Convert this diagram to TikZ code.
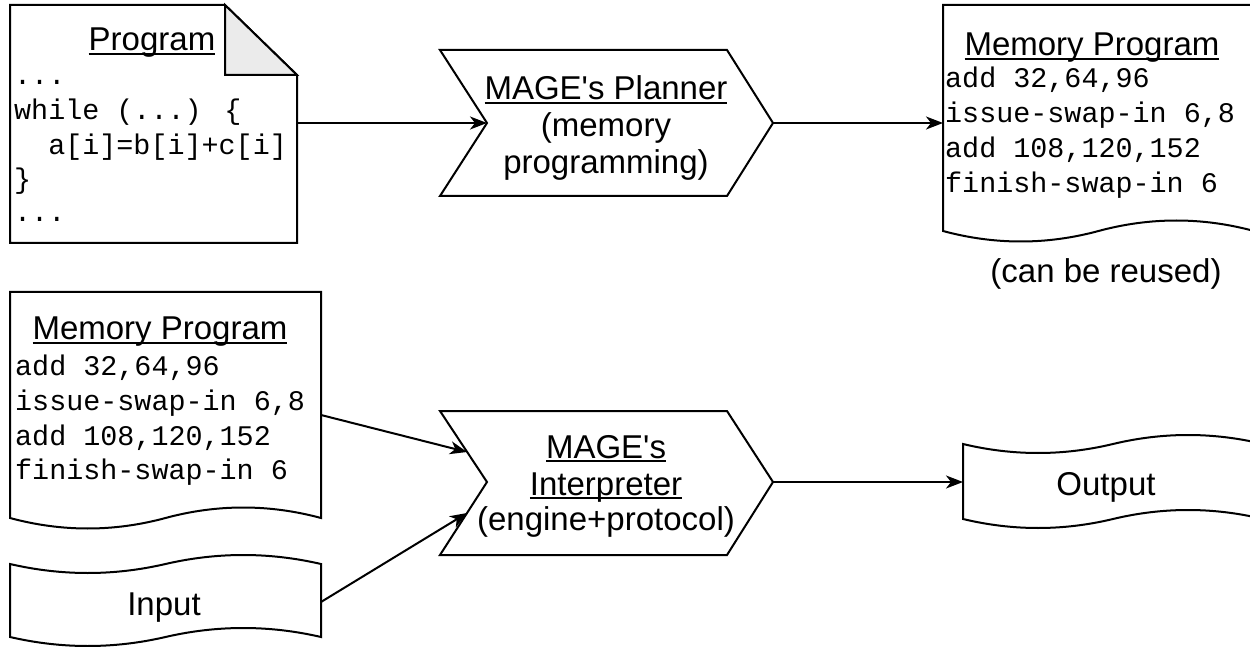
\documentclass[tikz,border=0pt]{standalone}
\usepackage{fontspec}
\setmainfont{Liberation Sans}[Ligatures=TeXOff]
\newfontfamily\codefont{Liberation Mono}[WordSpace={1,0,0}]
\usetikzlibrary{arrows.meta}
\definecolor{foldgray}{RGB}{235,235,235}
\newcommand\myul[1]{\leavevmode\setbox0=\hbox{#1}\rlap{\rule[-4bp]{\wd0}{2bp}}\box0}
\tikzset{
  shapeline/.style={draw=black, line width=2bp, fill=white},
  conn/.style={line width=2bp, -{Stealth[length=17bp,width=13bp,inset=5bp]}},
  sanstxt/.style={anchor=base, inner sep=0pt, font=\fontsize{33bp}{38bp}\selectfont},
  codetxt/.style={anchor=base west, inner sep=0pt, font=\codefont\fontsize{28.4bp}{35bp}\selectfont},
}
\begin{document}
\begin{tikzpicture}[x=1bp,y=-1bp]
\useasboundingbox (0,0) rectangle (1250,647);
\fill[white] (0,0) rectangle (1250,647);

% ---------- Program note ----------
\draw[shapeline] (10,5) -- (225,5) -- (297,75) -- (297,243) -- (10,243) -- cycle;
\draw[shapeline, fill=foldgray] (225,5) -- (225,75) -- (297,75) -- cycle;
\node[sanstxt] (progT) at (152,51) {\myul{Program}};
\node[codetxt] (progL1) at (14,85) {...};
\node[codetxt] (progL2) at (14,120) {while (...) \{};
\node[codetxt] (progL3) at (14,155) {\phantom{aa}a[i]=b[i]+c[i]};
\node[codetxt] (progL4) at (14,189) {\}};
\node[codetxt] (progL5) at (14,222) {...};
\coordinate (progE) at (297,123);

% ---------- Planner step ----------
\draw[shapeline] (440,50) -- (727,50) -- (773,123) -- (727,196) -- (440,196) -- (487,123) -- cycle;
\node[sanstxt] (planT1) at (606,100) {\myul{MAGE's Planner}};
\node[sanstxt] (planT2) at (606,137) {(memory};
\node[sanstxt] (planT3) at (606,174) {programming)};
\coordinate (planW) at (487,123);
\coordinate (planE) at (773,123);

% ---------- Memory Program (top right) ----------
\draw[shapeline] (943,5) -- (1254,5) -- (1254,231)
  .. controls (1202.2,217) and (1150.3,217) .. (1098.5,231)
  .. controls (1046.7,245) and (994.8,245) .. (943,231) -- cycle;
\node[sanstxt] (memAT) at (1092,56) {\myul{Memory Program}};
\node[codetxt] (memAL1) at (945,88) {add 32,64,96};
\node[codetxt] (memAL2) at (945,123) {issue-swap-in 6,8};
\node[codetxt] (memAL3) at (945,158) {add 108,120,152};
\node[codetxt] (memAL4) at (945,193) {finish-swap-in 6};
\coordinate (memAW) at (943,123);
\node[sanstxt] (reuse) at (1106,283) {(can be reused)};

% ---------- Memory Program (bottom left) ----------
\draw[shapeline] (10,292) -- (321,292) -- (321,518)
  .. controls (269.2,504) and (217.3,504) .. (165.5,518)
  .. controls (113.7,532) and (61.8,532) .. (10,518) -- cycle;
\node[sanstxt] (memBT) at (160,340) {\myul{Memory Program}};
\node[codetxt] (memBL1) at (15,375) {add 32,64,96};
\node[codetxt] (memBL2) at (15,410) {issue-swap-in 6,8};
\node[codetxt] (memBL3) at (15,445) {add 108,120,152};
\node[codetxt] (memBL4) at (15,479) {finish-swap-in 6};
\coordinate (memBE) at (321,415);

% ---------- Input tape ----------
\draw[shapeline] (10,564)
  .. controls (61.8,576) and (113.7,576) .. (165.5,564)
  .. controls (217.3,552) and (269.2,552) .. (321,564) -- (321,637)
  .. controls (269.2,625) and (217.3,625) .. (165.5,637)
  .. controls (113.7,649) and (61.8,649) .. (10,637) -- cycle;
\node[sanstxt] (inT) at (164,615) {Input};
\coordinate (inE) at (321,602);

% ---------- Interpreter step ----------
\draw[shapeline] (440,411) -- (727,411) -- (773,482) -- (727,555) -- (440,555) -- (487,482) -- cycle;
\node[sanstxt] (intT1) at (606,458) {\myul{MAGE's}};
\node[sanstxt] (intT2) at (606,495) {\myul{Interpreter}};
\node[sanstxt] (intT3) at (606,530) {(engine+protocol)};
\coordinate (intWa) at (467,452);
\coordinate (intWb) at (467,513);
\coordinate (intE) at (773,482);

% ---------- Output tape ----------
\draw[shapeline] (963,444)
  .. controls (1013,456) and (1063,456) .. (1113,444)
  .. controls (1163,432) and (1213,432) .. (1263,444) -- (1263,519)
  .. controls (1213,507) and (1163,507) .. (1113,519)
  .. controls (1063,531) and (1013,531) .. (963,519) -- cycle;
\node[sanstxt] (outT) at (1106,495) {Output};
\coordinate (outW) at (963,482);

% ---------- Connectors ----------
\draw[conn] (progE) -- (planW);
\draw[conn] (planE) -- (memAW);
\draw[conn] (memBE) -- (intWa);
\draw[conn] (inE) -- (intWb);
\draw[conn] (intE) -- (outW);
\end{tikzpicture}
\end{document}
